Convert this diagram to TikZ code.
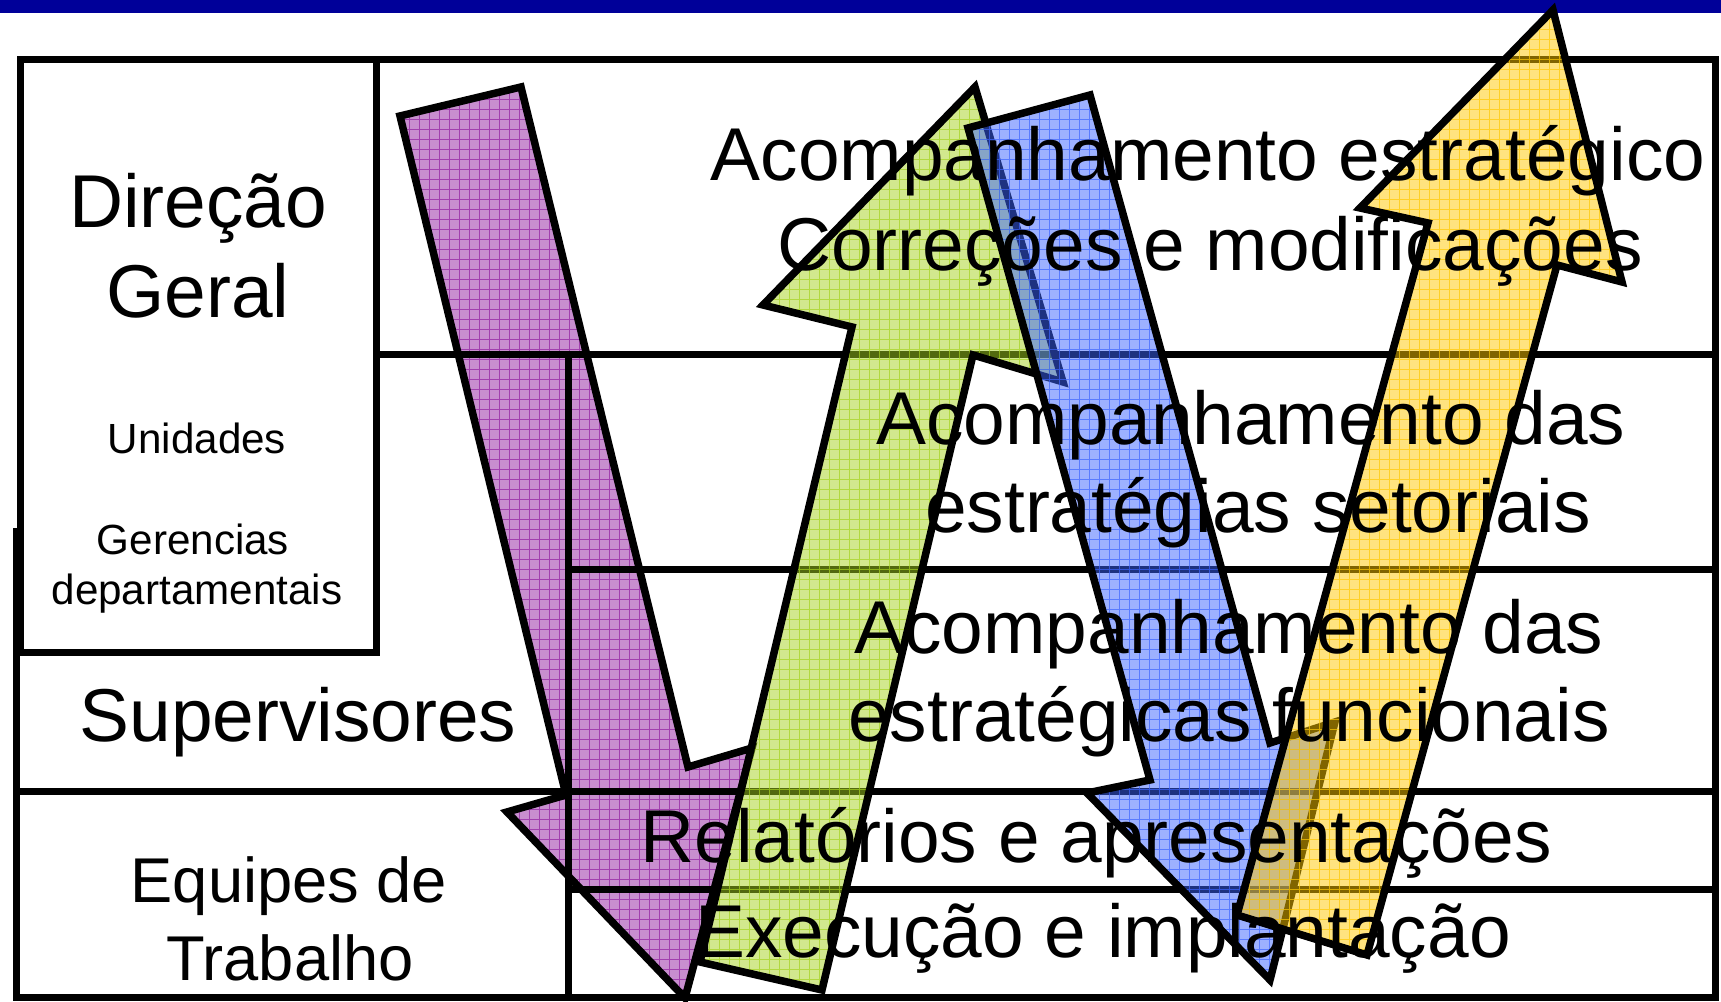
\documentclass[tikz,border=0pt]{standalone}
\usepackage{fontspec}
\setmainfont{Liberation Sans}
\definecolor{barblue}{RGB}{0,0,153}
\definecolor{purpleC}{RGB}{145,30,160}
\definecolor{greenC}{RGB}{165,210,30}
\definecolor{blueC}{RGB}{60,100,255}
\definecolor{yellowC}{RGB}{255,200,0}

\begin{document}
\begin{tikzpicture}[x=0.1mm, y=-0.1mm,
		rowline/.style={line width=0.7mm},
		arrowfill/.style={draw=black, line width=0.75mm, line join=miter, fill=#1, fill opacity=0.5,
			path picture={\draw [#1, line width=0.1mm, draw opacity=0.7, step=1mm] (path picture bounding box.south west) grid (path picture bounding box.north east);}},
		bigtxt/.style={anchor=base, font=\fontsize{21.3}{25}\selectfont},
		midtxt/.style={anchor=base, font=\fontsize{18}{21}\selectfont},
		smalltxt/.style={anchor=base, font=\fontsize{12}{14}\selectfont}]
		\useasboundingbox ( 0, 0 ) rectangle ( 1721, 1002 );
		\fill [barblue] ( 0, 0 ) rectangle ( 1721, 13 );
		% downward arrow, under the table
		\draw [arrowfill=purpleC] ( 400, 116 ) -- ( 521, 87 ) -- ( 688, 767 ) -- ( 752, 748 ) -- ( 685, 998 ) -- ( 507, 812 ) -- ( 566, 795 ) -- cycle;
		% table
		\draw [rowline] ( 20, 60 ) rectangle ( 376, 653 );
		\draw [rowline] ( 376, 60 ) rectangle ( 1715, 355 );
		\draw [rowline] ( 16, 528 ) -- ( 16, 998 ) -- ( 1715, 998 ) -- ( 1715, 355 );
		\draw [rowline] ( 568, 355 ) -- ( 568, 998 );
		\draw [rowline] ( 568, 570 ) -- ( 1715, 570 );
		\draw [rowline] ( 16, 792 ) -- ( 1715, 792 );
		\draw [rowline] ( 568, 890 ) -- ( 1715, 890 );
		% the other arrows
		\draw [arrowfill=greenC] ( 975, 87 ) -- ( 1063, 382 ) -- ( 973, 355 ) -- ( 822, 990 ) -- ( 700, 962 ) -- ( 852, 327 ) -- ( 763, 305 ) -- cycle;
		\draw [arrowfill=blueC] ( 968, 128 ) -- ( 1090, 95 ) -- ( 1270, 743 ) -- ( 1335, 722 ) -- ( 1270, 980 ) -- ( 1087, 793 ) -- ( 1150, 780 ) -- cycle;
		\draw [arrowfill=yellowC] ( 1553, 10 ) -- ( 1622, 282 ) -- ( 1557, 265 ) -- ( 1367, 955 ) -- ( 1237, 915 ) -- ( 1428, 223 ) -- ( 1360, 208 ) -- cycle;
		% left column
		\node [bigtxt] (dirA) at ( 198, 228 ) {Direção};
		\node [bigtxt] (dirB) at ( 198, 318 ) {Geral};
		\node [smalltxt] (unid) at ( 197, 454 ) {Unidades};
		\node [smalltxt] (gerA) at ( 193, 555 ) {Gerencias};
		\node [smalltxt] (gerB) at ( 197, 605 ) {departamentais};
		\node [bigtxt] (sup) at ( 298, 742 ) {Supervisores};
		\node [midtxt] (eqA) at ( 289, 903 ) {Equipes de};
		\node [midtxt] (eqB) at ( 290, 981 ) {Trabalho};
		% right column
		\node [bigtxt] (acA) at ( 1208, 181 ) {Acompanhamento estratégico};
		\node [bigtxt] (acB) at ( 1210, 271 ) {Correções e modificações};
		\node [bigtxt] (setA) at ( 1251, 445 ) {Acompanhamento das};
		\node [bigtxt] (setB) at ( 1258, 533 ) {estratégias setoriais};
		\node [bigtxt] (funA) at ( 1229, 654 ) {Acompanhamento das};
		\node [bigtxt] (funB) at ( 1229, 742 ) {estratégicas funcionais};
		\node [bigtxt] (rel) at ( 1096, 863 ) {Relatórios e apresentações};
		\node [bigtxt] (exe) at ( 1103, 958 ) {Execução e implantação};
	\end{tikzpicture}
\end{document}
